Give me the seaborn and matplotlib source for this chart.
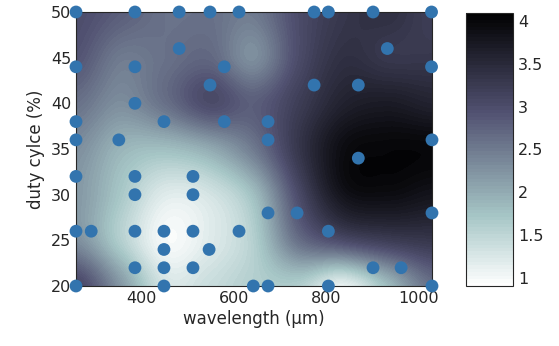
import numpy as np
import matplotlib
matplotlib.use("Agg")
import matplotlib.pyplot as plt
import seaborn as sns
import pandas as pd

# measured sample points
wavelength = [257, 385, 481, 548, 611, 774, 805, 902, 1029,
              481, 933,
              257, 385, 579, 1029,
              548, 774, 870,
              385,
              257, 448, 579, 674,
              257, 350, 674, 1030,
              870,
              257, 385, 511,
              385, 511,
              674, 737, 1030,
              257, 290, 385, 448, 511, 611, 805,
              448, 546,
              385, 448, 511, 902, 963,
              257, 448, 642, 674, 805, 1030]
duty_cycle = [50, 50, 50, 50, 50, 50, 50, 50, 50,
              46, 46,
              44, 44, 44, 44,
              42, 42, 42,
              40,
              38, 38, 38, 38,
              36, 36, 36, 36,
              34,
              32, 32, 32,
              30, 30,
              28, 28, 28,
              26, 26, 26, 26, 26, 26, 26,
              24, 24,
              22, 22, 22, 22, 22,
              20, 20, 20, 20, 20, 20]

# background field on a coarse grid
grid_x = [257, 354, 450, 547, 644, 740, 837, 933, 1030]
grid_y = [20, 25, 30, 35, 40, 45, 50]
field = [
    [3.1, 2.2, 1.3, 1.4, 1.6, 1.6, 1.1, 1.8, 2.6],   # 20
    [2.3, 1.6, 1.0, 1.2, 1.6, 2.6, 3.0, 3.2, 3.3],   # 25
    [2.2, 1.7, 1.2, 1.3, 1.8, 3.0, 3.8, 3.9, 3.8],   # 30
    [2.3, 1.9, 1.8, 2.0, 2.5, 3.3, 3.9, 4.0, 4.0],   # 35
    [2.6, 2.3, 2.6, 3.0, 2.8, 3.2, 3.6, 3.7, 3.6],   # 40
    [2.9, 2.5, 2.6, 2.7, 2.3, 3.0, 3.4, 3.3, 3.3],   # 45
    [3.0, 2.8, 2.6, 2.6, 2.5, 3.0, 3.3, 3.4, 3.2],   # 50
]
vmin, vmax = 0.91, 4.09

def upsample(arr, n):
    # Catmull-Rom cubic upsampling along axis 1
    arr = np.asarray(arr, float)
    m = arr.shape[1]
    t = np.linspace(0, m - 1, n)
    i = np.clip(np.floor(t).astype(int), 0, m - 2)
    u = t - i
    p = np.pad(arr, ((0, 0), (1, 1)), mode="edge")
    p0, p1, p2, p3 = p[:, i], p[:, i + 1], p[:, i + 2], p[:, i + 3]
    return 0.5 * ((2 * p1) + (-p0 + p2) * u + (2 * p0 - 5 * p1 + 4 * p2 - p3) * u ** 2
                  + (-p0 + 3 * p1 - 3 * p2 + p3) * u ** 3)

Z = np.asarray(field)
Zf = upsample(Z, 300)
Zf = upsample(Zf.T, 200).T
XX, YY = np.meshgrid(np.linspace(grid_x[0], grid_x[-1], 300),
                     np.linspace(grid_y[0], grid_y[-1], 200))

sns.set_style("white")
plt.rcParams['font.family'] = ['DejaVu Sans']
fig = plt.figure(figsize=(5.59, 3.46), dpi=100)
ax = fig.add_axes([76 / 559, 60 / 346, 356 / 559, 274 / 346])
cax = fig.add_axes([466 / 559, 60 / 346, 47 / 559, 273 / 346])

levels = np.linspace(vmin, vmax, 80)
cf = ax.contourf(XX, YY, np.clip(Zf, vmin, vmax), levels=levels, cmap="bone_r",
                 vmin=vmin, vmax=vmax)

df = pd.DataFrame({"wavelength": wavelength, "duty": duty_cycle})
sns.scatterplot(data=df, x="wavelength", y="duty", ax=ax, s=85, color="#3274ae",
                edgecolor="none", clip_on=False, zorder=5, legend=False)

ax.set_xlim(257, 1030)
ax.set_ylim(20, 50)
ax.set_xticks([400, 600, 800, 1000])
ax.set_yticks([20, 25, 30, 35, 40, 45, 50])
ax.set_xlabel("wavelength (µm)", fontsize=12, color="#262626", labelpad=3)
ax.set_ylabel("duty cylce (%)", fontsize=12, color="#262626")
ax.tick_params(direction="in", length=3, labelsize=11.5, colors="#262626",
               top=True, right=True, bottom=True, left=True)
for s in ax.spines.values():
    s.set_visible(True)
    s.set_color("#262626")
    s.set_linewidth(0.8)

cb = fig.colorbar(cf, cax=cax, ticks=[1, 1.5, 2, 2.5, 3, 3.5, 4])
cb.ax.set_yticklabels(["1", "1.5", "2", "2.5", "3", "3.5", "4"])
cb.ax.tick_params(direction="in", length=3, labelsize=11.5, colors="#262626")
cb.outline.set_edgecolor("#262626")
cb.outline.set_linewidth(0.8)

fig.savefig("out.png", dpi=100)
